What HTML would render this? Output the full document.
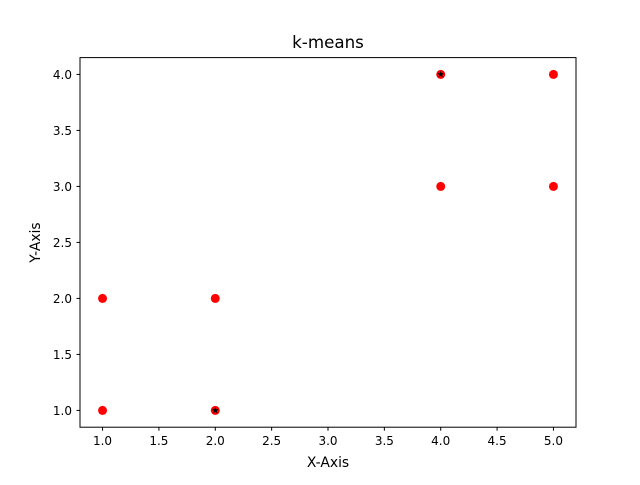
<!DOCTYPE html>
<html><head><meta charset="utf-8"><style>
body{margin:0;background:#fff}
svg text{font-family:"DejaVu Sans","Liberation Sans",sans-serif;fill:#000}
</style></head><body>
<svg id="c" width="640" height="480" xmlns="http://www.w3.org/2000/svg">
<rect width="640" height="480" fill="#fff"/>
<text x="328" y="48" font-size="16.7" text-anchor="middle">k-means</text>
<text x="328" y="467" font-size="13.9" text-anchor="middle">X-Axis</text>
<text transform="translate(40,242.5) rotate(-90)" font-size="13.9" text-anchor="middle">Y-Axis</text>
<g id="ticks"></g><g id="marks"></g>
<rect x="80" y="57.6" width="496" height="369.6" fill="none" stroke="#000" stroke-width="1"/>
</svg>
<script>
const xTicks=[1.0,1.5,2.0,2.5,3.0,3.5,4.0,4.5,5.0];
const yTicks=[1.0,1.5,2.0,2.5,3.0,3.5,4.0];
const pointsX=[1,1,2,2,4,4,5,5];
const pointsY=[1,2,1,2,3,4,3,4];
const centroidsX=[4,2];
const centroidsY=[4,1];
const NS="http://www.w3.org/2000/svg";
const x0=80,x1=576,y0=427.2,y1=57.6,xmin=0.8,xmax=5.2,ymin=0.85,ymax=4.15;
const sx=v=>x0+(v-xmin)/(xmax-xmin)*(x1-x0);
const sy=v=>y0-(v-ymin)/(ymax-ymin)*(y0-y1);
function mk(tag,a,p){const e=document.createElementNS(NS,tag);for(const k in a)e.setAttribute(k,a[k]);p.appendChild(e);return e;}
const T=document.getElementById('ticks'),M=document.getElementById('marks');
xTicks.forEach(v=>{const x=sx(v);
const l=mk('line',{x1:x,x2:x,y1:y0,y2:y0+3.5,stroke:'#000'},T);


const t=mk('text',{x:x,y:y0+18,'font-size':12,'text-anchor':'middle'},T);t.textContent=v.toFixed(1);

});
yTicks.forEach(v=>{const y=sy(v);
const l=mk('line',{x1:x0-3.5,x2:x0,y1:y,y2:y,stroke:'#000'},T);


const t=mk('text',{x:x0-8,y:y+4.5,'font-size':12,'text-anchor':'end'},T);t.textContent=v.toFixed(1);

});
pointsX.forEach((v,i)=>{const c=mk('circle',{cx:sx(v),cy:sy(pointsY[i]),r:4.5,fill:'#ff0000'},M);

});
centroidsX.forEach((v,i)=>{const cx=sx(v),cy=sy(centroidsY[i]);let d='';
for(let k=0;k<10;k++){const r=k%2?1.5:3.5,a=-Math.PI/2+k*Math.PI/5;d+=(k?'L':'M')+(cx+r*Math.cos(a))+','+(cy+r*Math.sin(a));}
const s=mk('path',{d:d+'Z',fill:'#000'},M);

});
</script>
</body></html>
